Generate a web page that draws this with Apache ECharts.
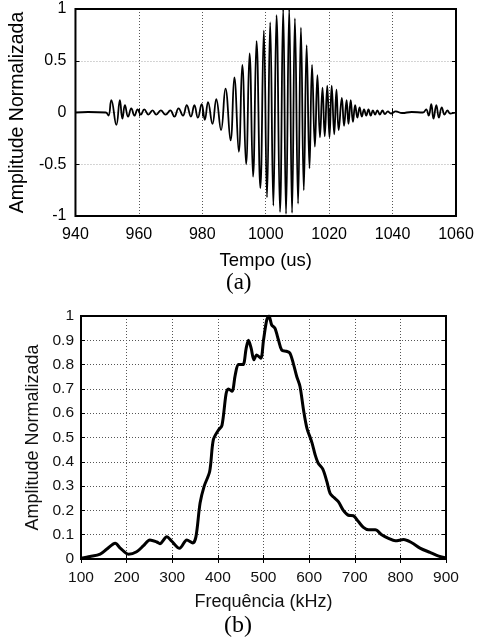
<!DOCTYPE html>
<html>
<head>
<meta charset="utf-8">
<script src="https://cdn.jsdelivr.net/npm/echarts@6/dist/echarts.min.js"></script>
<style>
html,body{margin:0;padding:0;background:#fff;}
#c{width:477px;height:637px;}
</style>
</head>
<body>
<div id="c"></div>
<script>
// ---- Chart (a): time signal ----
const timeUs = [
  940, 944, 949.6, 950.4, 951.3, 952.9, 954.0, 954.8, 955.6, 956.6,
  957.6, 958.6, 959.6, 960.6, 961.7, 963.0, 964.3, 965.5, 966.9, 968.4,
  969.9, 971.2, 972.5, 973.9, 975.1, 976.4, 977.5, 978.6, 979.8, 980.8,
  981.8, 983.2, 984.4, 985.9, 987.3, 988.9, 990.1, 991.5, 992.6, 993.8,
  994.9, 996.0, 997.1, 998.3, 999.4, 1000.4, 1001.4, 1002.4, 1003.4, 1004.5,
  1005.5, 1006.4, 1007.4, 1008.3, 1009.2, 1010.2, 1011.1, 1012.0, 1012.9, 1013.8,
  1014.6, 1015.5, 1016.3, 1017.1, 1017.9, 1018.6, 1019.4, 1020.1, 1020.8, 1021.6,
  1022.3, 1023.0, 1024.0, 1024.7, 1025.5, 1026.1, 1026.8, 1027.5, 1028.2, 1028.9,
  1029.6, 1030.3, 1031.0, 1031.7, 1032.4, 1033.1, 1033.8, 1034.5, 1035.2, 1036.0,
  1036.8, 1037.6, 1038.5, 1039.5, 1041.0, 1043.0, 1046.0, 1049.6, 1050.6, 1051.4,
  1052.2, 1052.9, 1053.8, 1054.6, 1055.5, 1056.4, 1057.3, 1058.2, 1060
];
const ampTime = [
  0, 0.005, 0, -0.03, 0.12, -0.12, 0.12, -0.06, 0.07, -0.04,
  0.04, -0.03, 0.03, -0.02, 0.03, -0.02, 0.02, -0.02, 0.02, -0.02,
  0.02, -0.04, 0.04, -0.03, 0.07, -0.04, 0.07, -0.05, 0.08, -0.07,
  0.10, -0.11, 0.13, -0.17, 0.23, -0.27, 0.34, -0.38, 0.46, -0.50,
  0.57, -0.62, 0.69, -0.73, 0.79, -0.82, 0.87, -0.90, 0.94, -0.96,
  1.0, -0.98, 1.0, -0.97, 0.91, -0.88, 0.82, -0.75, 0.65, -0.54,
  0.46, -0.33, 0.36, -0.24, 0.24, -0.23, 0.26, -0.24, 0.26, -0.21,
  0.22, -0.17, 0.14, -0.13, 0.12, -0.11, 0.12, -0.09, 0.07, -0.05,
  0.05, -0.04, 0.03, -0.03, 0.03, -0.03, 0.02, -0.02, 0.02, -0.02,
  0.02, -0.015, 0.01, -0.01, 0.01, -0.005, 0.005, 0, 0.03, -0.03,
  0.08, -0.06, 0.07, -0.05, 0.05, -0.02, 0.02, -0.01, 0
];
const timeAxis = {min: 940, max: 1060, interval: 20};
const ampAxisA = {min: -1, max: 1, interval: 0.5};

// ---- Chart (b): spectrum ----
const freqKHz = [
  100, 120, 142, 156, 175, 186, 204, 222, 237, 251,
  266, 273, 288, 299, 316, 332, 345, 352, 361, 370,
  382, 390, 401, 409, 418, 423, 431, 438, 445, 455,
  462, 467, 473, 479, 485, 494, 500, 507, 512, 518,
  525, 533, 540, 550, 558, 566, 573, 580, 588, 595,
  606, 613, 620, 630, 639, 646, 654, 664, 675, 686,
  697, 708, 719, 730, 745, 759, 774, 789, 807, 825,
  843, 865, 884, 900
];
const ampFreq = [
  0.003, 0.01, 0.02, 0.04, 0.065, 0.045, 0.02, 0.03, 0.055, 0.078,
  0.07, 0.063, 0.092, 0.073, 0.044, 0.078, 0.066, 0.092, 0.23, 0.30,
  0.36, 0.49, 0.53, 0.55, 0.68, 0.70, 0.69, 0.757, 0.80, 0.80,
  0.867, 0.90, 0.867, 0.82, 0.84, 0.826, 0.90, 0.983, 1.0, 0.963,
  0.95, 0.90, 0.86, 0.855, 0.847, 0.80, 0.75, 0.71, 0.61, 0.54,
  0.48, 0.43, 0.394, 0.37, 0.318, 0.27, 0.254, 0.236, 0.20, 0.18,
  0.178, 0.154, 0.13, 0.12, 0.12, 0.10, 0.085, 0.075, 0.08, 0.067,
  0.045, 0.027, 0.012, 0.004
];
const freqAxis = {min: 100, max: 900, interval: 100};
const ampAxisB = {min: 0, max: 1, interval: 0.1};

const xTitleA = 'Tempo (us)';
const xTitleB = 'Frequência (kHz)';
const yTitle = 'Amplitude Normalizada';
const captionA = '(a)';
const captionB = '(b)';

const SANS = "'Liberation Sans', Arial, sans-serif";
const SERIF = "'Liberation Serif', 'Times New Roman', serif";

function zip(a, b) { return a.map((v, i) => [v, b[i]]); }
function plain(v) { return String(Math.round(v * 1000) / 1000); }
function tickInside() { return {show: true, inside: true, length: 4, lineStyle: {color: '#000', width: 1}}; }

const chart = echarts.init(document.getElementById('c'), null, {renderer: 'canvas'});
const option = {
  backgroundColor: '#fff',
  animation: false,
  grid: [
    {left: 72, top: 9, width: 384, height: 207, show: true, borderColor: '#000', borderWidth: 2, backgroundColor: 'transparent', z: 5},
    {left: 81, top: 316, width: 365, height: 243, show: true, borderColor: '#000', borderWidth: 2, backgroundColor: 'transparent', z: 5}
  ],
  xAxis: [
    {type: 'value', gridIndex: 0, position: 'bottom', min: timeAxis.min, max: timeAxis.max, interval: timeAxis.interval,
     axisLine: {show: false}, axisTick: tickInside(),
     axisLabel: {color: '#000', fontFamily: SANS, fontSize: 16, margin: 11, formatter: plain},
     splitLine: {show: true, lineStyle: {color: '#555', type: [1, 2], width: 1}},
     name: xTitleA, nameLocation: 'middle', nameGap: 35,
     nameTextStyle: {color: '#000', fontFamily: SANS, fontSize: 18.5}},
    {type: 'value', gridIndex: 0, position: 'top', min: timeAxis.min, max: timeAxis.max, interval: timeAxis.interval,
     axisLine: {show: false}, axisTick: tickInside(), axisLabel: {show: false}, splitLine: {show: false}},
    {type: 'value', gridIndex: 1, position: 'bottom', min: freqAxis.min, max: freqAxis.max, interval: freqAxis.interval,
     axisLine: {show: false}, axisTick: tickInside(),
     axisLabel: {color: '#111', fontFamily: SANS, fontSize: 15.5, margin: 11, formatter: plain},
     splitLine: {show: true, lineStyle: {color: '#555', type: [1, 2], width: 1}},
     name: xTitleB, nameLocation: 'middle', nameGap: 34,
     nameTextStyle: {color: '#111', fontFamily: SANS, fontSize: 18}},
    {type: 'value', gridIndex: 1, position: 'top', min: freqAxis.min, max: freqAxis.max, interval: freqAxis.interval,
     axisLine: {show: false}, axisTick: tickInside(), axisLabel: {show: false}, splitLine: {show: false}}
  ],
  yAxis: [
    {type: 'value', gridIndex: 0, position: 'left', min: ampAxisA.min, max: ampAxisA.max, interval: ampAxisA.interval,
     axisLine: {show: false}, axisTick: tickInside(),
     axisLabel: {color: '#000', fontFamily: SANS, fontSize: 16, margin: 9, formatter: plain},
     splitLine: {show: true, lineStyle: {color: '#aaa', type: [1, 2], width: 1}},
     name: yTitle, nameLocation: 'middle', nameGap: 41,
     nameTextStyle: {color: '#000', fontFamily: SANS, fontSize: 19.5}},
    {type: 'value', gridIndex: 0, position: 'right', min: ampAxisA.min, max: ampAxisA.max, interval: ampAxisA.interval,
     axisLine: {show: false}, axisTick: tickInside(), axisLabel: {show: false}, splitLine: {show: false}},
    {type: 'value', gridIndex: 1, position: 'left', min: ampAxisB.min, max: ampAxisB.max, interval: ampAxisB.interval,
     axisLine: {show: false}, axisTick: tickInside(),
     axisLabel: {color: '#111', fontFamily: SANS, fontSize: 15.5, margin: 7, formatter: plain},
     splitLine: {show: true, lineStyle: {color: '#555', type: [1, 2], width: 1}},
     name: yTitle, nameLocation: 'middle', nameGap: 34,
     nameTextStyle: {color: '#111', fontFamily: SANS, fontSize: 18}},
    {type: 'value', gridIndex: 1, position: 'right', min: ampAxisB.min, max: ampAxisB.max, interval: ampAxisB.interval,
     axisLine: {show: false}, axisTick: tickInside(), axisLabel: {show: false}, splitLine: {show: false}}
  ],
  series: [
    {type: 'line', xAxisIndex: 0, yAxisIndex: 0, data: zip(timeUs, ampTime), showSymbol: false, smooth: 0.45,
     lineStyle: {color: '#000', width: 1.8}, z: 3},
    {type: 'line', xAxisIndex: 2, yAxisIndex: 2, data: zip(freqKHz, ampFreq), showSymbol: false, smooth: 0.3,
     lineStyle: {color: '#000', width: 3}, z: 3}
  ],
  graphic: [
    {type: 'text', left: 226, top: 271, style: {text: captionA, fontFamily: SERIF, fontSize: 23, fill: '#000'}},
    {type: 'text', left: 224, top: 614, style: {text: captionB, fontFamily: SERIF, fontSize: 24, fill: '#000'}}
  ]
};
chart.setOption(option);
</script>
</body>
</html>
